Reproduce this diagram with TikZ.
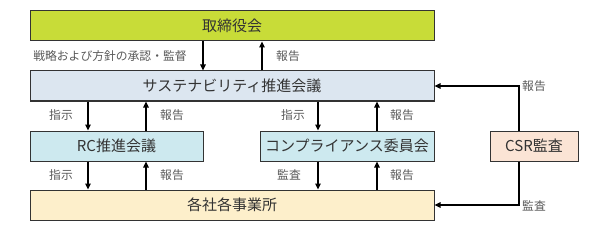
\documentclass[tikz,border=0pt]{standalone}
\usepackage{fontspec}
\setmainfont{Noto Sans CJK JP}
\usetikzlibrary{arrows.meta}
\definecolor{boardGreen}{HTML}{C8DC38}
\definecolor{sustBlue}{HTML}{DCE6F0}
\definecolor{cmteCyan}{HTML}{CDE9EF}
\definecolor{csrPeach}{HTML}{FBE4D5}
\definecolor{siteTan}{HTML}{FDEFCB}
\begin{document}
\begin{tikzpicture}[
    x=1pt, y=-1pt,
    govBox/.style={rectangle, draw=black!80, line width=1pt, minimum height=30pt, inner sep=0pt, font=\fontsize{15}{17}\selectfont, text=black!80},
    govArrow/.style={line width=1.3pt, -{Triangle[length=6pt,width=5.5pt]}},
    govLabel/.style={font=\fontsize{11.8}{13}\selectfont, text=black!65, inner sep=0pt}
]
\useasboundingbox (0,0) rectangle (592,230);

% boxes
\node[govBox, fill=boardGreen, minimum width=404pt] (board) at (232,26) {取締役会};
\node[govBox, fill=sustBlue, minimum width=404pt] (sust) at (232,86) {サステナビリティ推進会議};
\node[govBox, fill=cmteCyan, minimum width=173pt] (rc) at (116.5,146) {RC推進会議};
\node[govBox, fill=cmteCyan, minimum width=174pt] (comp) at (347,146) {コンプライアンス委員会};
\node[govBox, fill=csrPeach, minimum width=88pt] (csr) at (534,146) {CSR監査};
\node[govBox, fill=siteTan, minimum width=404pt] (site) at (232,205) {各社各事業所};

% board <-> sustainability
\draw[govArrow] ([xshift=-29pt]board.south) -- ([xshift=-29pt]board.south |- sust.north);
\draw[govArrow] ([xshift=30pt]board.south |- sust.north) -- ([xshift=30pt]board.south);
\node[govLabel] (lApprove) at (110,56) {戦略および方針の承認・監督};
\node[govLabel] (lRepTop) at (288,56) {報告};

% sustainability <-> committees
\draw[govArrow] ([xshift=-28.5pt]rc.north |- sust.south) -- ([xshift=-28.5pt]rc.north);
\draw[govArrow] ([xshift=29.5pt]rc.north) -- ([xshift=29.5pt]rc.north |- sust.south);
\node[govLabel] (lInstRc) at (61,115) {指示};
\node[govLabel] (lRepRc) at (172,115) {報告};
\draw[govArrow] ([xshift=-29pt]comp.north |- sust.south) -- ([xshift=-29pt]comp.north);
\draw[govArrow] ([xshift=30pt]comp.north) -- ([xshift=30pt]comp.north |- sust.south);
\node[govLabel] (lInstComp) at (293,115) {指示};
\node[govLabel] (lRepComp) at (402,115) {報告};

% committees <-> sites
\draw[govArrow] ([xshift=-28.5pt]rc.south) -- ([xshift=-28.5pt]rc.south |- site.north);
\draw[govArrow] ([xshift=29.5pt]rc.south |- site.north) -- ([xshift=29.5pt]rc.south);
\node[govLabel] (lInstSite) at (61,175) {指示};
\node[govLabel] (lRepSite) at (172,175) {報告};
\draw[govArrow] ([xshift=-29pt]comp.south) -- ([xshift=-29pt]comp.south |- site.north);
\draw[govArrow] ([xshift=30pt]comp.south |- site.north) -- ([xshift=30pt]comp.south);
\node[govLabel] (lAuditComp) at (289,175) {監査};
\node[govLabel] (lRepComp2) at (402,175) {報告};

% CSR audit
\draw[govArrow] ([xshift=-15pt]csr.north) |- (sust.east);
\draw[govArrow] ([xshift=-15pt]csr.south) |- (site.east);
\node[govLabel] (lRepCsr) at (534,86) {報告};
\node[govLabel] (lAuditCsr) at (534,206) {監査};
\end{tikzpicture}
\end{document}
